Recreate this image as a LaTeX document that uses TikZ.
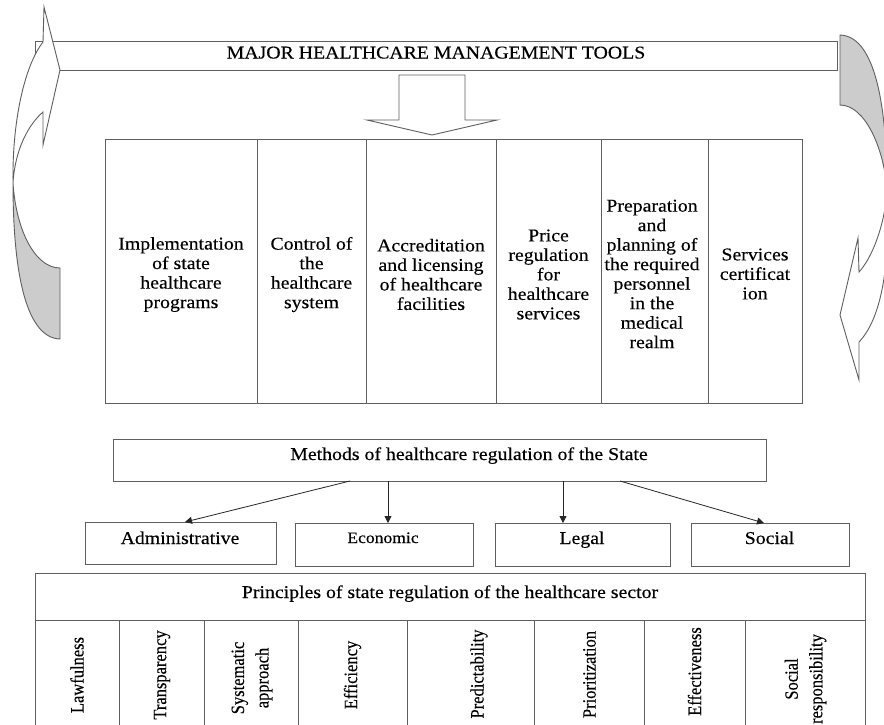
\documentclass[tikz,border=0pt]{standalone}
\usepackage{fontspec}
\setmainfont[FakeStretch=1.1]{Liberation Serif}
\newfontfamily\serifwide[FakeStretch=1.1,FakeBold=0.3]{Liberation Serif}
\newfontfamily\rotfont[FakeBold=0.3]{Liberation Serif}
\usetikzlibrary{arrows.meta}
\definecolor{linegray}{HTML}{5F5F5F}
\definecolor{backgray}{HTML}{CCCCCC}
\begin{document}
\begin{tikzpicture}[x=1pt,y=-1pt,
  box/.style={draw=linegray, line width=0.9pt, inner sep=0pt, outer sep=0pt},
  shapeline/.style={draw=linegray, line width=0.9pt, line join=miter},
  lbl/.style={font=\serifwide\fontsize{18}{19.5}\selectfont, align=center, inner sep=0pt},
  smalllbl/.style={font=\serifwide\fontsize{16}{19}\selectfont, align=center, inner sep=0pt},
  rotlbl/.style={font=\rotfont\fontsize{16.5}{21.5}\selectfont, rotate=90, yscale=1.14, align=center, inner sep=0pt},
  arr/.style={draw=black!85, line width=0.8pt, -{Triangle[length=7pt,width=7pt]}}]
\useasboundingbox (0,0) rectangle (884,724);
\fill[white] (0,0) rectangle (884,724);

% banner
\node[box, minimum width=802pt, minimum height=29pt] (banner) at (436,55.5) {};
\node[lbl, anchor=base] (bannerT) at (436,58.5) {MAJOR HEALTHCARE MANAGEMENT TOOLS};

% left curved arrow: back (gray) part
\path[shapeline, fill=backgray] (13,183) .. controls (16,230) and (35,268) .. (60,268)
   -- (60,339) .. controls (28,338) and (13,280) .. (13,183) -- cycle;
% left curved arrow: front (white) part with head
\path[shapeline, fill=white] (43,42) -- (44,7) -- (60,70) -- (43,145) -- (43,112)
   .. controls (28,125) and (15,150) .. (13,183)
   .. controls (12,120) and (25,65) .. (43,42) -- cycle;

% right curved arrow (clipped by the picture edge)
\begin{scope}
\clip (0,0) rectangle (884,724);
\path[shapeline, fill=backgray] (840,35) -- (840,105) .. controls (865,105) and (884,148) .. (887,190)
   .. controls (887,94) and (872,36) .. (840,35) -- cycle;
\path[shapeline, fill=white] (887,190) .. controls (885,225) and (872,258) .. (859,272)
   -- (858,238) -- (840,315) -- (859,380) -- (859,342)
   .. controls (880,320) and (891,270) .. (887,190) -- cycle;
\end{scope}

% block arrow down
\path[shapeline, fill=white] (399,75) -- (465,75) -- (465,120) -- (497,120) -- (432,135)
   -- (367,120) -- (399,120) -- cycle;

% tools columns
\node[box, minimum width=152pt, minimum height=264pt] (c1) at (181,271) {};
\node[box, minimum width=109pt, minimum height=264pt] (c2) at (311.5,271) {};
\node[box, minimum width=130pt, minimum height=264pt] (c3) at (431,271) {};
\node[box, minimum width=105pt, minimum height=264pt] (c4) at (548.5,271) {};
\node[box, minimum width=107pt, minimum height=264pt] (c5) at (654.5,271) {};
\node[box, minimum width=94pt, minimum height=264pt] (c6) at (755,271) {};

\node[lbl] (c1T) at (181,274.5) {Implementation\\of state\\healthcare\\programs};
\node[lbl] (c2T) at (311.5,274.5) {Control of\\the\\healthcare\\system};
\node[lbl] (c3T) at (431,274.5) {Accreditation\\and licensing\\of healthcare\\facilities};
\node[lbl] (c4T) at (548.5,274.5) {Price\\regulation\\for\\healthcare\\services};
\node[lbl] (c5T) at (652,274) {Preparation\\and\\planning of\\the required\\personnel\\in the\\medical\\realm};
\node[lbl] (c6T) at (755,274) {Services\\certificat\\ion};

% methods
\node[box, minimum width=653pt, minimum height=42pt] (methods) at (439.5,460) {};
\node[lbl, anchor=base] (methodsT) at (469,460) {Methods of healthcare regulation of the State};

\node[box, minimum width=191pt, minimum height=42pt] (adm) at (180.5,543) {};
\node[lbl, anchor=base] (admT) at (180,544) {Administrative};
\node[box, minimum width=178pt, minimum height=43pt] (eco) at (384,544.5) {};
\node[smalllbl, anchor=base] (ecoT) at (383,543) {Economic};
\node[box, minimum width=175pt, minimum height=43pt] (leg) at (582.5,544.5) {};
\node[lbl, anchor=base] (legT) at (582,544) {Legal};
\node[box, minimum width=158pt, minimum height=43pt] (soc) at (770,544.5) {};
\node[lbl, anchor=base] (socT) at (769.5,544) {Social};

\draw[arr] ([xshift=-89.5pt]methods.south) -- ([xshift=4.5pt]adm.north);
\draw[arr] ([xshift=-51.5pt]methods.south) -- ([xshift=4pt]eco.north);
\draw[arr] ([xshift=123.5pt]methods.south) -- ([xshift=-19.5pt]leg.north);
\draw[arr] ([xshift=180.5pt]methods.south) -- ([xshift=-6pt]soc.north);

% principles
\node[box, minimum width=830pt, minimum height=47pt] (prin) at (450,596.5) {};
\node[lbl, anchor=base] (prinT) at (450,598) {Principles of state regulation of the healthcare sector};

\node[box, minimum width=84pt, minimum height=110pt] (p1) at (77,675) {};
\node[box, minimum width=85pt, minimum height=110pt] (p2) at (161.5,675) {};
\node[box, minimum width=94pt, minimum height=110pt] (p3) at (251,675) {};
\node[box, minimum width=109pt, minimum height=110pt] (p4) at (352.5,675) {};
\node[box, minimum width=127pt, minimum height=110pt] (p5) at (470.5,675) {};
\node[box, minimum width=110pt, minimum height=110pt] (p6) at (589,675) {};
\node[box, minimum width=101pt, minimum height=110pt] (p7) at (694.5,675) {};
\node[box, minimum width=120pt, minimum height=110pt] (p8) at (805,675) {};

\node[rotlbl] (p1T) at (77,675) {Lawfulness};
\node[rotlbl] (p2T) at (162,675) {Transparency};
\node[rotlbl] (p3T) at (252,678) {Systematic\\approach};
\node[rotlbl] (p4T) at (352.5,675) {Efficiency};
\node[rotlbl] (p5T) at (479,674) {Predictability};
\node[rotlbl] (p6T) at (589.5,674.5) {Prioritization};
\node[rotlbl] (p7T) at (694.5,671.5) {Effectiveness};
\node[rotlbl] (p8T) at (805.5,679) {Social\\responsibility};
\end{tikzpicture}
\end{document}
